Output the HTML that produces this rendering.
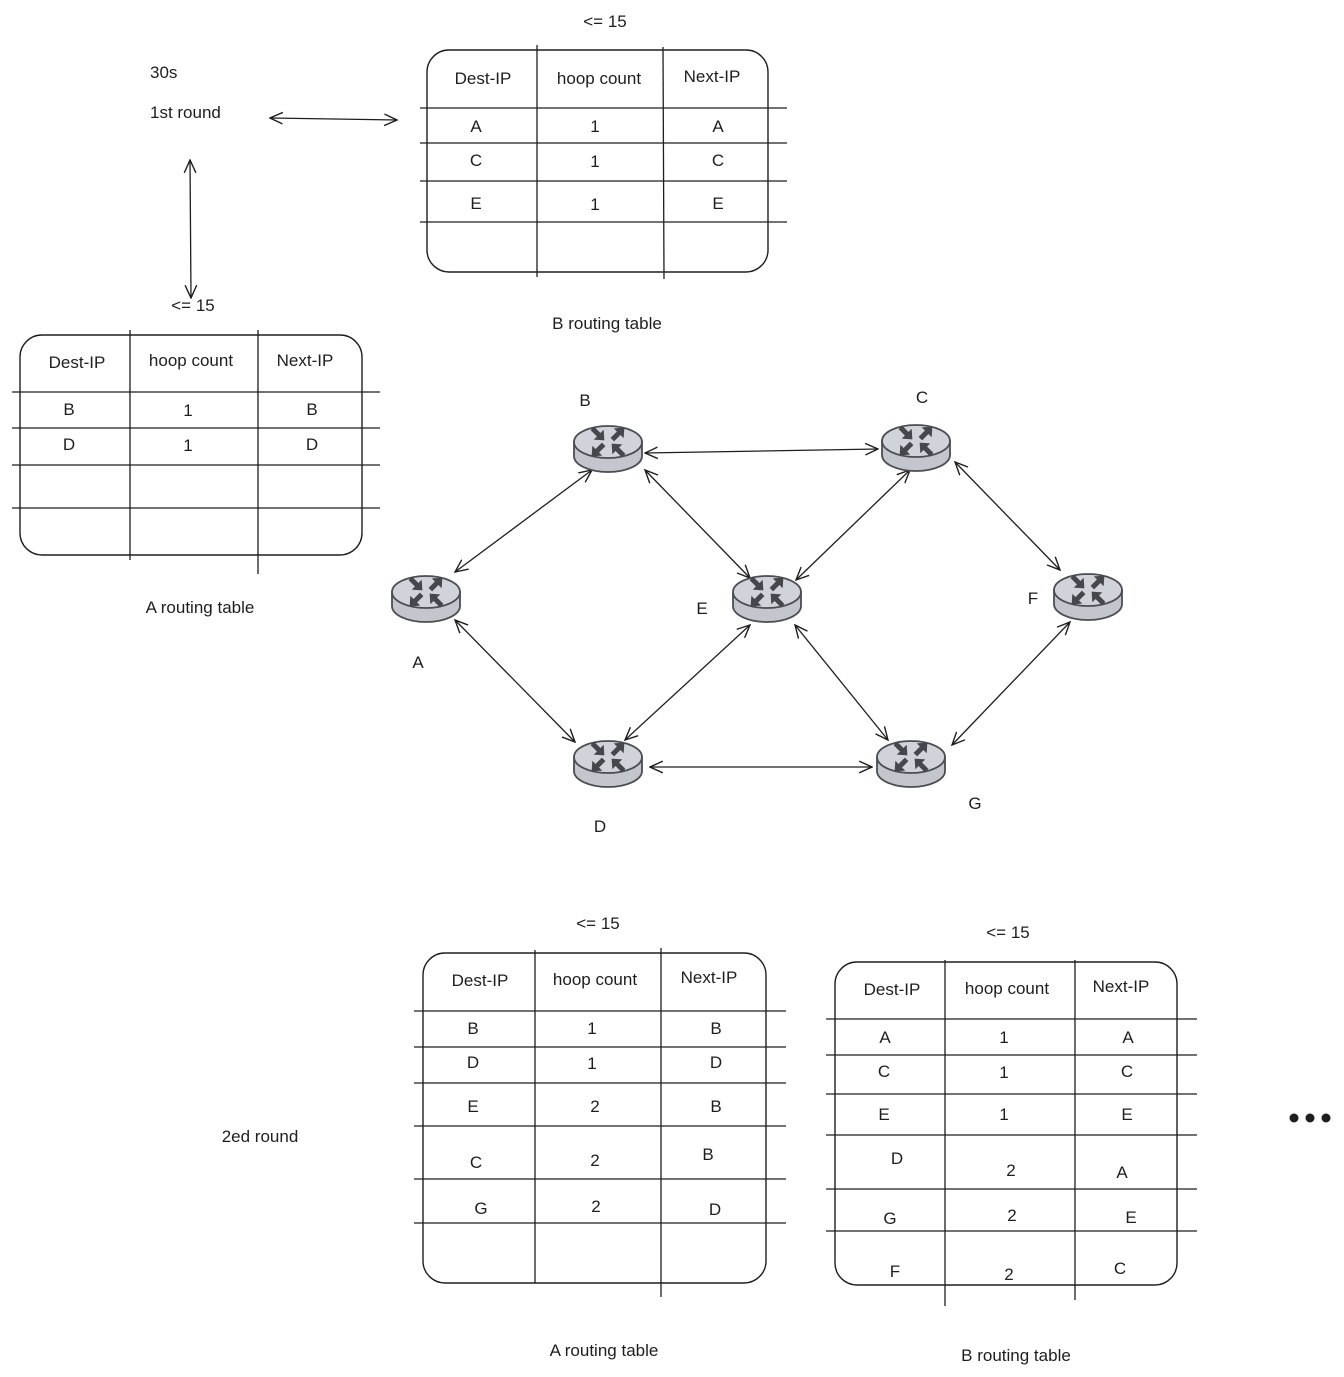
<!DOCTYPE html>
<html><head><meta charset="utf-8"><style>
html,body{margin:0;padding:0;background:#fff;}
svg{display:block;}
text{font-family:"Liberation Sans",sans-serif;font-size:17px;fill:#1e1e1e;}
.c{text-anchor:middle;}
.t{fill:none;stroke:#1e1e1e;stroke-width:1.4;}
.l{stroke:#1e1e1e;stroke-width:1.3;fill:none;}
</style></head><body>
<svg width="1344" height="1377" viewBox="0 0 1344 1377" xmlns="http://www.w3.org/2000/svg">
<defs>
<marker id="ah" viewBox="0 0 12 12" refX="11" refY="6" markerWidth="14" markerHeight="14" orient="auto-start-reverse" markerUnits="userSpaceOnUse">
<path d="M0,1 L11,6 L0,11" fill="none" stroke="#1e1e1e" stroke-width="1.2"/>
</marker>
<polygon id="ar" points="-8,-2.5 1,-2.5 1,-7 9,0 1,7 1,2.5 -8,2.5" fill="#44474c"/>
<g id="rt">
<path d="M-34,-5 L-34,9 A34,16 0 0 0 34,9 L34,-5 Z" fill="#c3c6cd" stroke="#4a4d52" stroke-width="1.8"/>
<ellipse cx="0" cy="-5" rx="34" ry="16" fill="#d0d3d9" stroke="#4a4d52" stroke-width="1.8"/>
<use href="#ar" transform="translate(-10,-13) rotate(45)"/>
<use href="#ar" transform="translate(10,-13) rotate(-45)"/>
<use href="#ar" transform="translate(-10,3) rotate(135)"/>
<use href="#ar" transform="translate(10,3) rotate(225)"/>
</g>
</defs>

<text x="150" y="78">30s</text>
<text x="150" y="118">1st round</text>
<line class="l" x1="270" y1="118" x2="397" y2="120" marker-start="url(#ah)" marker-end="url(#ah)"/>
<line class="l" x1="190" y1="160" x2="191" y2="298" marker-start="url(#ah)" marker-end="url(#ah)"/>

<text class="c" x="605" y="27">&lt;= 15</text>
<rect class="t" x="427" y="50" width="341" height="222" rx="22"/>
<line class="l" x1="537" y1="45" x2="537" y2="277"/><line class="l" x1="663" y1="47" x2="664" y2="279"/>
<line class="l" x1="420" y1="108" x2="787" y2="108"/><line class="l" x1="420" y1="143" x2="787" y2="143"/>
<line class="l" x1="420" y1="181" x2="787" y2="181"/><line class="l" x1="420" y1="222" x2="787" y2="222"/>
<text class="c" x="483" y="84">Dest-IP</text><text class="c" x="599" y="84">hoop count</text><text class="c" x="712" y="82">Next-IP</text>
<text class="c" x="476" y="132">A</text><text class="c" x="595" y="132">1</text><text class="c" x="718" y="132">A</text>
<text class="c" x="476" y="166">C</text><text class="c" x="595" y="167">1</text><text class="c" x="718" y="166">C</text>
<text class="c" x="476" y="209">E</text><text class="c" x="595" y="210">1</text><text class="c" x="718" y="209">E</text>
<text class="c" x="607" y="329">B routing table</text>

<text class="c" x="193" y="311">&lt;= 15</text>
<rect class="t" x="20" y="335" width="342" height="220" rx="22"/>
<line class="l" x1="130" y1="330" x2="130" y2="560"/><line class="l" x1="258" y1="330" x2="258" y2="574"/>
<line class="l" x1="12" y1="392" x2="380" y2="392"/><line class="l" x1="12" y1="428" x2="380" y2="428"/>
<line class="l" x1="12" y1="465" x2="380" y2="465"/><line class="l" x1="12" y1="508" x2="380" y2="508"/>
<text class="c" x="77" y="368">Dest-IP</text><text class="c" x="191" y="366">hoop count</text><text class="c" x="305" y="366">Next-IP</text>
<text class="c" x="69" y="415">B</text><text class="c" x="188" y="416">1</text><text class="c" x="312" y="415">B</text>
<text class="c" x="69" y="450">D</text><text class="c" x="188" y="451">1</text><text class="c" x="312" y="450">D</text>
<text class="c" x="200" y="613">A routing table</text>

<g marker-start="url(#ah)" marker-end="url(#ah)">
<line class="l" x1="645" y1="453" x2="878" y2="449"/>
<line class="l" x1="592" y1="470" x2="455" y2="572"/>
<line class="l" x1="645" y1="470" x2="750" y2="578"/>
<line class="l" x1="910" y1="470" x2="796" y2="580"/>
<line class="l" x1="955" y1="462" x2="1060" y2="570"/>
<line class="l" x1="455" y1="620" x2="575" y2="742"/>
<line class="l" x1="750" y1="625" x2="625" y2="740"/>
<line class="l" x1="795" y1="625" x2="888" y2="740"/>
<line class="l" x1="1070" y1="622" x2="952" y2="745"/>
<line class="l" x1="650" y1="767" x2="872" y2="767"/>
</g>
<use href="#rt" x="608" y="447"/>
<use href="#rt" x="916" y="446"/>
<use href="#rt" x="426" y="597"/>
<use href="#rt" x="767" y="597"/>
<use href="#rt" x="1088" y="595"/>
<use href="#rt" x="608" y="762"/>
<use href="#rt" x="911" y="762"/>
<text class="c" x="585" y="406">B</text>
<text class="c" x="922" y="403">C</text>
<text class="c" x="418" y="668">A</text>
<text class="c" x="702" y="614">E</text>
<text class="c" x="1033" y="604">F</text>
<text class="c" x="600" y="832">D</text>
<text class="c" x="975" y="809">G</text>

<text class="c" x="260" y="1142">2ed round</text>
<circle cx="1294" cy="1118" r="4.5" fill="#1e1e1e"/><circle cx="1310" cy="1118" r="4.5" fill="#1e1e1e"/><circle cx="1326" cy="1118" r="4.5" fill="#1e1e1e"/>

<text class="c" x="598" y="929">&lt;= 15</text>
<rect class="t" x="423" y="953" width="343" height="330" rx="22"/>
<line class="l" x1="535" y1="950" x2="535" y2="1283"/><line class="l" x1="661" y1="948" x2="661" y2="1297"/>
<line class="l" x1="414" y1="1011" x2="786" y2="1011"/><line class="l" x1="414" y1="1047" x2="786" y2="1047"/>
<line class="l" x1="414" y1="1083" x2="786" y2="1083"/><line class="l" x1="414" y1="1126" x2="786" y2="1126"/>
<line class="l" x1="414" y1="1179" x2="786" y2="1179"/><line class="l" x1="414" y1="1223" x2="786" y2="1223"/>
<text class="c" x="480" y="986">Dest-IP</text><text class="c" x="595" y="985">hoop count</text><text class="c" x="709" y="983">Next-IP</text>
<text class="c" x="473" y="1034">B</text><text class="c" x="592" y="1034">1</text><text class="c" x="716" y="1034">B</text>
<text class="c" x="473" y="1068">D</text><text class="c" x="592" y="1069">1</text><text class="c" x="716" y="1068">D</text>
<text class="c" x="473" y="1112">E</text><text class="c" x="595" y="1112">2</text><text class="c" x="716" y="1112">B</text>
<text class="c" x="476" y="1168">C</text><text class="c" x="595" y="1166">2</text><text class="c" x="708" y="1160">B</text>
<text class="c" x="481" y="1214">G</text><text class="c" x="596" y="1212">2</text><text class="c" x="715" y="1215">D</text>
<text class="c" x="604" y="1356">A routing table</text>

<text class="c" x="1008" y="938">&lt;= 15</text>
<rect class="t" x="835" y="962" width="342" height="323" rx="22"/>
<line class="l" x1="945" y1="960" x2="945" y2="1306"/><line class="l" x1="1075" y1="960" x2="1075" y2="1300"/>
<line class="l" x1="826" y1="1019" x2="1197" y2="1019"/><line class="l" x1="826" y1="1055" x2="1197" y2="1055"/>
<line class="l" x1="826" y1="1094" x2="1197" y2="1094"/><line class="l" x1="826" y1="1135" x2="1197" y2="1135"/>
<line class="l" x1="826" y1="1189" x2="1197" y2="1189"/><line class="l" x1="826" y1="1231" x2="1197" y2="1231"/>
<text class="c" x="892" y="995">Dest-IP</text><text class="c" x="1007" y="994">hoop count</text><text class="c" x="1121" y="992">Next-IP</text>
<text class="c" x="885" y="1043">A</text><text class="c" x="1004" y="1043">1</text><text class="c" x="1128" y="1043">A</text>
<text class="c" x="884" y="1077">C</text><text class="c" x="1004" y="1078">1</text><text class="c" x="1127" y="1077">C</text>
<text class="c" x="884" y="1120">E</text><text class="c" x="1004" y="1120">1</text><text class="c" x="1127" y="1120">E</text>
<text class="c" x="897" y="1164">D</text><text class="c" x="1011" y="1176">2</text><text class="c" x="1122" y="1178">A</text>
<text class="c" x="890" y="1224">G</text><text class="c" x="1012" y="1221">2</text><text class="c" x="1131" y="1223">E</text>
<text class="c" x="895" y="1277">F</text><text class="c" x="1009" y="1280">2</text><text class="c" x="1120" y="1274">C</text>
<text class="c" x="1016" y="1361">B routing table</text>
</svg>
</body></html>
